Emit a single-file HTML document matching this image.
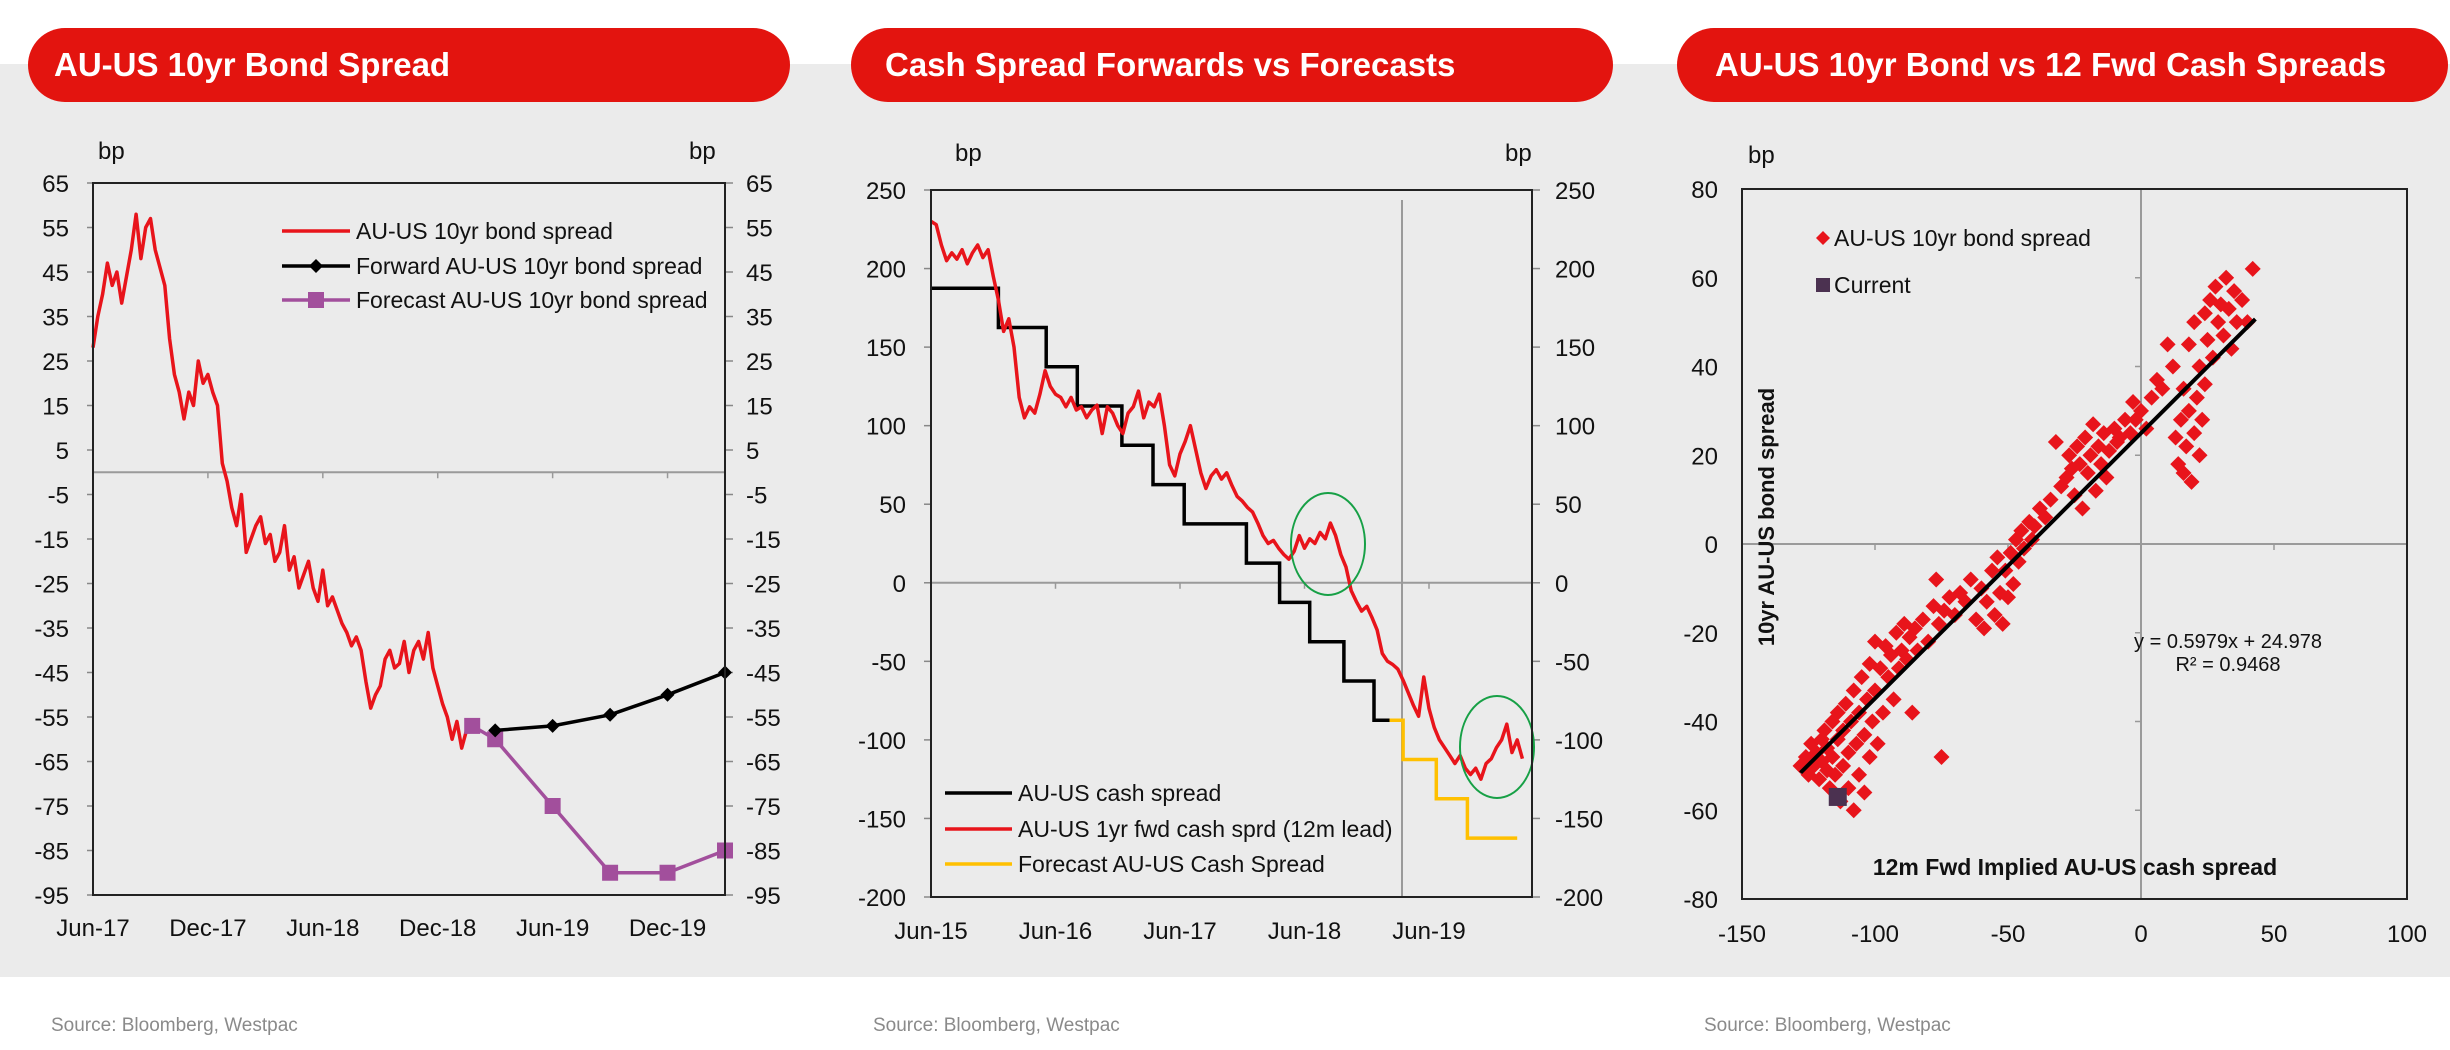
<!DOCTYPE html>
<html><head><meta charset="utf-8"><style>
html,body{margin:0;padding:0;background:#fff;}
body{width:2450px;height:1050px;position:relative;overflow:hidden;font-family:"Liberation Sans",sans-serif;}
svg{position:absolute;left:0;top:0;}
</style></head><body>
<svg id="s" width="2450" height="1050" viewBox="0 0 2450 1050" font-family="Liberation Sans, sans-serif">
<rect x="0" y="64" width="2450" height="913" fill="#ebebeb"/>
<rect x="28" y="28" width="762" height="74" rx="37" fill="#e3140f"/>
<text x="54" y="76" fill="#fff" font-size="33" font-weight="bold">AU-US 10yr Bond Spread</text>
<rect x="851" y="28" width="762" height="74" rx="37" fill="#e3140f"/>
<text x="885" y="76" fill="#fff" font-size="33" font-weight="bold">Cash Spread Forwards vs Forecasts</text>
<rect x="1677" y="28" width="771" height="74" rx="37" fill="#e3140f"/>
<text x="1715" y="76" fill="#fff" font-size="33" font-weight="bold">AU-US 10yr Bond vs 12 Fwd Cash Spreads</text>
<text x="51" y="1031" fill="#8a8a8a" font-size="19">Source: Bloomberg, Westpac</text>
<text x="873" y="1031" fill="#8a8a8a" font-size="19">Source: Bloomberg, Westpac</text>
<text x="1704" y="1031" fill="#8a8a8a" font-size="19">Source: Bloomberg, Westpac</text>
</svg>
<script>
// ---------- Chart 1 data ----------
const c1YTicks=[65,55,45,35,25,15,5,-5,-15,-25,-35,-45,-55,-65,-75,-85,-95];
const c1XLabels=["Jun-17","Dec-17","Jun-18","Dec-18","Jun-19","Dec-19"];
const c1XLabelMonths=[0,6,12,18,24,30];
const c1Spread=[28,35,40,47,42,45,38,44,50,58,48,55,57,50,46,42,30,22,18,12,18,15,25,20,22,18,15,2,-2,-8,-12,-5,-18,-15,-12,-10,-16,-14,-20,-18,-12,-22,-19,-26,-23,-20,-26,-29,-22,-30,-28,-31,-34,-36,-39,-37,-40,-47,-53,-50,-48,-42,-40,-44,-43,-38,-45,-40,-38,-42,-36,-44,-48,-52,-55,-60,-56,-62,-58,-57];
const c1FwdMonths=[21,24,27,30,33];
const c1FwdValues=[-58,-57,-54.5,-50,-45];
const c1FcMonths=[19.8,21,24,27,30,33];
const c1FcValues=[-57,-60,-75,-90,-90,-85];
// ---------- Chart 2 data ----------
const c2YTicks=[250,200,150,100,50,0,-50,-100,-150,-200];
const c2XLabels=["Jun-15","Jun-16","Jun-17","Jun-18","Jun-19"];
const c2XLabelMonths=[0,12,24,36,48];
const c2Fwd=[230,228,215,205,210,206,212,203,210,215,207,212,195,180,160,168,150,118,105,112,108,120,135,125,120,118,112,118,110,112,105,110,113,95,112,108,100,95,108,112,122,105,115,112,120,100,75,68,82,90,100,85,70,60,68,72,66,70,62,55,52,48,45,38,30,25,27,22,18,15,20,30,22,28,25,32,28,38,30,18,10,-5,-12,-18,-15,-22,-30,-45,-50,-52,-55,-62,-70,-78,-85,-60,-80,-92,-100,-105,-110,-115,-110,-118,-122,-118,-125,-115,-112,-105,-100,-90,-108,-100,-112];
const c2CashMonths=[0,6.5,11.1,14.1,18.4,21.4,24.4,30.4,33.6,36.5,39.8,42.7,44.2];
const c2CashValues=[187.5,162.5,137.5,112.5,87.5,62.5,37.5,12.5,-12.5,-37.5,-62.5,-87.5,-87.5];
const c2FcMonths=[44.2,45.5,48.7,51.7,56.5];
const c2FcValues=[-87.5,-112.5,-137.5,-162.5,-162.5];
// ---------- Chart 3 data ----------
const c3YTicks=[80,60,40,20,0,-20,-40,-60,-80];
const c3XTicks=[-150,-100,-50,0,50,100];
const c3CashX=[-128,-126,-125,-124,-123,-122,-121,-120,-120,-119,-118,-118,-117,-116,-116,-115,-114,-114,-113,-112,-112,-111,-110,-110,-109,-108,-108,-107,-106,-106,-105,-104,-104,-103,-102,-102,-101,-100,-100,-99,-98,-97,-96,-95,-94,-93,-92,-91,-90,-89,-88,-87,-86,-85,-84,-82,-80,-78,-77,-76,-75,-74,-72,-70,-68,-66,-64,-62,-60,-59,-58,-56,-55,-54,-53,-52,-51,-50,-49,-48,-47,-46,-45,-44,-42,-41,-40,-38,-36,-34,-32,-30,-28,-27,-26,-25,-24,-23,-22,-21,-20,-19,-18,-17,-16,-15,-14,-13,-12,-10,-9,-8,-6,-4,-3,-2,0,2,4,6,8,10,12,13,14,15,16,16,17,18,18,19,20,20,21,22,22,23,24,24,25,26,27,28,29,30,31,32,33,34,35,36,38,40,42];
const c3BondY=[-50,-48,-52,-45,-50,-47,-53,-44,-49,-42,-51,-46,-55,-40,-48,-52,-44,-38,-58,-50,-42,-36,-47,-55,-40,-60,-33,-45,-52,-38,-30,-43,-56,-35,-48,-27,-40,-33,-22,-45,-28,-38,-23,-30,-25,-35,-20,-28,-24,-18,-26,-21,-38,-19,-24,-17,-22,-14,-8,-18,-48,-15,-12,-16,-11,-13,-8,-17,-10,-19,-13,-6,-16,-3,-11,-18,-6,-12,-2,-9,1,-4,3,-1,5,1,4,8,6,10,23,13,15,20,17,11,22,18,8,24,16,20,27,12,22,18,25,15,21,26,23,24,28,25,32,28,30,26,33,37,35,45,40,24,18,28,16,35,22,30,45,14,25,50,33,20,40,28,52,36,46,55,42,58,50,54,47,60,53,44,57,50,55,50,62];
const c3CurrentX=[-114];
const c3CurrentY=[-57];
const c3Slope=0.5979, c3Intercept=24.978, c3FitMin=-128, c3FitMax=43;

const svg=document.getElementById('s');
const NS='http://www.w3.org/2000/svg';
const FS=24, LFS=23;
function mk(tag,attrs,parent){const e=document.createElementNS(NS,tag);for(const k in attrs)e.setAttribute(k,attrs[k]);(parent||svg).appendChild(e);return e;}
function txt(s,attrs){const e=mk('text',attrs);e.textContent=s;return e;}
function pts(xs,ys,fx,fy){return xs.map((v,i)=>fx(v).toFixed(1)+','+fy(ys[i]).toFixed(1)).join(' ');}

// ===== Chart 1 =====
(function(){
const L=93,R=725,T=183,B=895;
const y=v=>T+(65-v)/160*(B-T);
const x=m=>L+m/33*(R-L);
let e;
e=mk('line',{x1:L,x2:R,y1:y(0),y2:y(0),stroke:'#9a9a9a','stroke-width':2});


c1YTicks.forEach(v=>{
  e=txt(String(v),{x:69,y:y(v)+9,'text-anchor':'end','font-size':FS,fill:'#111'});
  
  
  e=txt(String(v),{x:746,y:y(v)+9,'font-size':FS,fill:'#111'});
  
  
  e=mk('line',{x1:L-6,x2:L,y1:y(v),y2:y(v),stroke:'#888','stroke-width':1.5});
  
  
  e=mk('line',{x1:R,x2:R+8,y1:y(v),y2:y(v),stroke:'#888','stroke-width':1.5});
  
  
});
c1XLabels.forEach((s,i)=>{
  e=txt(s,{x:x(c1XLabelMonths[i]),y:936,'text-anchor':'middle','font-size':FS,fill:'#111'});
  
  
  e=mk('line',{x1:x(c1XLabelMonths[i]),x2:x(c1XLabelMonths[i]),y1:y(0),y2:y(0)+6,stroke:'#999','stroke-width':1.5});
  
  
});
e=txt('bp',{x:98,y:159,'font-size':FS,fill:'#111'});


e=txt('bp',{x:689,y:159,'font-size':FS,fill:'#111'});


e=mk('polyline',{points:pts(c1Spread.map((v,i)=>i*0.25),c1Spread,x,y),fill:'none',stroke:'#e8141b','stroke-width':3.5,'stroke-linejoin':'round'});


e=mk('polyline',{points:pts(c1FcMonths,c1FcValues,x,y),fill:'none',stroke:'#a24f9c','stroke-width':3.5});


c1FcMonths.forEach((m,i)=>{
  e=mk('rect',{x:x(m)-8,y:y(c1FcValues[i])-8,width:16,height:16,fill:'#a24f9c'});
  
  
});
e=mk('polyline',{points:pts(c1FwdMonths,c1FwdValues,x,y),fill:'none',stroke:'#000','stroke-width':3.5});


c1FwdMonths.forEach((m,i)=>{
  const cx=x(m),cy=y(c1FwdValues[i]);
  e=mk('polygon',{points:`${cx},${cy-7} ${cx+7},${cy} ${cx},${cy+7} ${cx-7},${cy}`,fill:'#000'});
  
  
});
e=mk('rect',{x:L,y:T,width:R-L,height:B-T,fill:'none',stroke:'#222','stroke-width':2});


const lg=[['AU-US 10yr bond spread','#e8141b',null],['Forward AU-US 10yr bond spread','#000','d'],['Forecast AU-US 10yr bond spread','#a24f9c','s']];
lg.forEach((r,i)=>{
  const ly=[231,266,300][i];
  e=mk('line',{x1:282,x2:350,y1:ly,y2:ly,stroke:r[1],'stroke-width':3.5});
  
  
  if(r[2]==='d'){e=mk('polygon',{points:`316,${ly-7} 323,${ly} 316,${ly+7} 309,${ly}`,fill:'#000'});
  
  }
  if(r[2]==='s'){e=mk('rect',{x:308,y:ly-8,width:16,height:16,fill:'#a24f9c'});
  
  }
  e=txt(r[0],{x:356,y:ly+8,'font-size':LFS,fill:'#111'});
  
  
});
})();

// ===== Chart 2 =====
(function(){
const L=931,R=1532,T=190,B=897;
const y=v=>T+(250-v)/450*(B-T);
const x=m=>L+m*124.5/12;
let e;
e=mk('line',{x1:L,x2:R,y1:y(0),y2:y(0),stroke:'#9a9a9a','stroke-width':2});


e=mk('line',{x1:1402,x2:1402,y1:200,y2:B,stroke:'#9a9a9a','stroke-width':2});


c2YTicks.forEach(v=>{
  e=txt(String(v),{x:906,y:y(v)+9,'text-anchor':'end','font-size':FS,fill:'#111'});
  
  
  e=txt(String(v),{x:1555,y:y(v)+9,'font-size':FS,fill:'#111'});
  
  
  e=mk('line',{x1:L-7,x2:L,y1:y(v),y2:y(v),stroke:'#888','stroke-width':1.5});
  
  
  e=mk('line',{x1:R,x2:R+8,y1:y(v),y2:y(v),stroke:'#888','stroke-width':1.5});
  
  
});
c2XLabels.forEach((s,i)=>{
  e=txt(s,{x:x(c2XLabelMonths[i]),y:939,'text-anchor':'middle','font-size':FS,fill:'#111'});
  
  
  e=mk('line',{x1:x(c2XLabelMonths[i]),x2:x(c2XLabelMonths[i]),y1:y(0),y2:y(0)+6,stroke:'#999','stroke-width':1.5});
  
  
});
e=txt('bp',{x:955,y:161,'font-size':FS,fill:'#111'});


e=txt('bp',{x:1505,y:161,'font-size':FS,fill:'#111'});


function stepPts(ms,vs){let p=[];for(let i=0;i<ms.length;i++){if(i>0)p.push([x(ms[i]),y(vs[i-1])]);p.push([x(ms[i]),y(vs[i])]);}return p.map(a=>a[0].toFixed(1)+','+a[1].toFixed(1)).join(' ');}
e=mk('polyline',{points:stepPts(c2CashMonths,c2CashValues),fill:'none',stroke:'#000','stroke-width':3.5});


e=mk('polyline',{points:stepPts(c2FcMonths,c2FcValues),fill:'none',stroke:'#ffc000','stroke-width':3.5});


e=mk('polyline',{points:pts(c2Fwd.map((v,i)=>i*0.5),c2Fwd,x,y),fill:'none',stroke:'#e8141b','stroke-width':3.5,'stroke-linejoin':'round'});


e=mk('ellipse',{cx:1328,cy:544,rx:37,ry:51,fill:'none',stroke:'#17a046','stroke-width':2});


e=mk('ellipse',{cx:1497,cy:747,rx:37,ry:51,fill:'none',stroke:'#17a046','stroke-width':2});


e=mk('rect',{x:L,y:T,width:R-L,height:B-T,fill:'none',stroke:'#222','stroke-width':2});


const lg=[['AU-US cash spread','#000'],['AU-US 1yr fwd cash sprd (12m lead)','#e8141b'],['Forecast AU-US Cash Spread','#ffc000']];
lg.forEach((r,i)=>{
  const ly=[793,829,864][i];
  e=mk('line',{x1:945,x2:1012,y1:ly,y2:ly,stroke:r[1],'stroke-width':3.5});
  
  
  e=txt(r[0],{x:1018,y:ly+8,'font-size':LFS,fill:'#111'});
  
  
});
})();

// ===== Chart 3 =====
(function(){
const L=1742,R=2407,T=189,B=899;
const x=v=>L+(v+150)/250*(R-L);
const y=v=>T+(80-v)/160*(B-T);
let e;
e=mk('line',{x1:L,x2:R,y1:y(0),y2:y(0),stroke:'#9a9a9a','stroke-width':2});


e=mk('line',{x1:x(0),x2:x(0),y1:T,y2:B,stroke:'#9a9a9a','stroke-width':2});


c3YTicks.forEach(v=>{
  e=txt(String(v),{x:1718,y:y(v)+9,'text-anchor':'end','font-size':FS,fill:'#111'});
  
  
  e=mk('line',{x1:x(0)-6,x2:x(0),y1:y(v),y2:y(v),stroke:'#999','stroke-width':1.5});
  
  
});
c3XTicks.forEach(v=>{
  e=txt(String(v),{x:x(v),y:942,'text-anchor':'middle','font-size':FS,fill:'#111'});
  
  
  e=mk('line',{x1:x(v),x2:x(v),y1:y(0),y2:y(0)+6,stroke:'#999','stroke-width':1.5});
  
  
});
e=txt('bp',{x:1748,y:163,'font-size':FS,fill:'#111'});


c3CashX.forEach((v,i)=>{
  const cx=x(v),cy=y(c3BondY[i]);
  e=mk('polygon',{points:`${cx},${cy-8} ${cx+8},${cy} ${cx},${cy+8} ${cx-8},${cy}`,fill:'#e8141b'});
  
  
});
e=mk('line',{x1:x(c3FitMin),y1:y(c3Slope*c3FitMin+c3Intercept),x2:x(c3FitMax),y2:y(c3Slope*c3FitMax+c3Intercept),stroke:'#000','stroke-width':4});


c3CurrentX.forEach((v,i)=>{
  e=mk('rect',{x:x(v)-9,y:y(c3CurrentY[i])-9,width:18,height:18,fill:'#4b3150'});
  
  
});
e=mk('rect',{x:L,y:T,width:R-L,height:B-T,fill:'none',stroke:'#222','stroke-width':2});


e=txt('10yr AU-US bond spread',{x:0,y:0,'font-size':22,'font-weight':'bold',fill:'#111','text-anchor':'middle',transform:'translate(1774,517) rotate(-90)'});


e=txt('12m Fwd Implied AU-US cash spread',{x:2075,y:875,'font-size':23,'font-weight':'bold',fill:'#111','text-anchor':'middle'});


e=txt('y = '+c3Slope+'x + '+c3Intercept,{x:2228,y:648,'font-size':20,fill:'#111','text-anchor':'middle'});


e=txt('R² = 0.9468',{x:2228,y:671,'font-size':20,fill:'#111','text-anchor':'middle'});


e=mk('polygon',{points:'1823,231 1830,238 1823,245 1816,238',fill:'#e8141b'});


e=txt('AU-US 10yr bond spread',{x:1834,y:246,'font-size':LFS,fill:'#111'});


e=mk('rect',{x:1816,y:278,width:14,height:14,fill:'#4b3150'});


e=txt('Current',{x:1834,y:293,'font-size':LFS,fill:'#111'});


})();
</script>
</body></html>
